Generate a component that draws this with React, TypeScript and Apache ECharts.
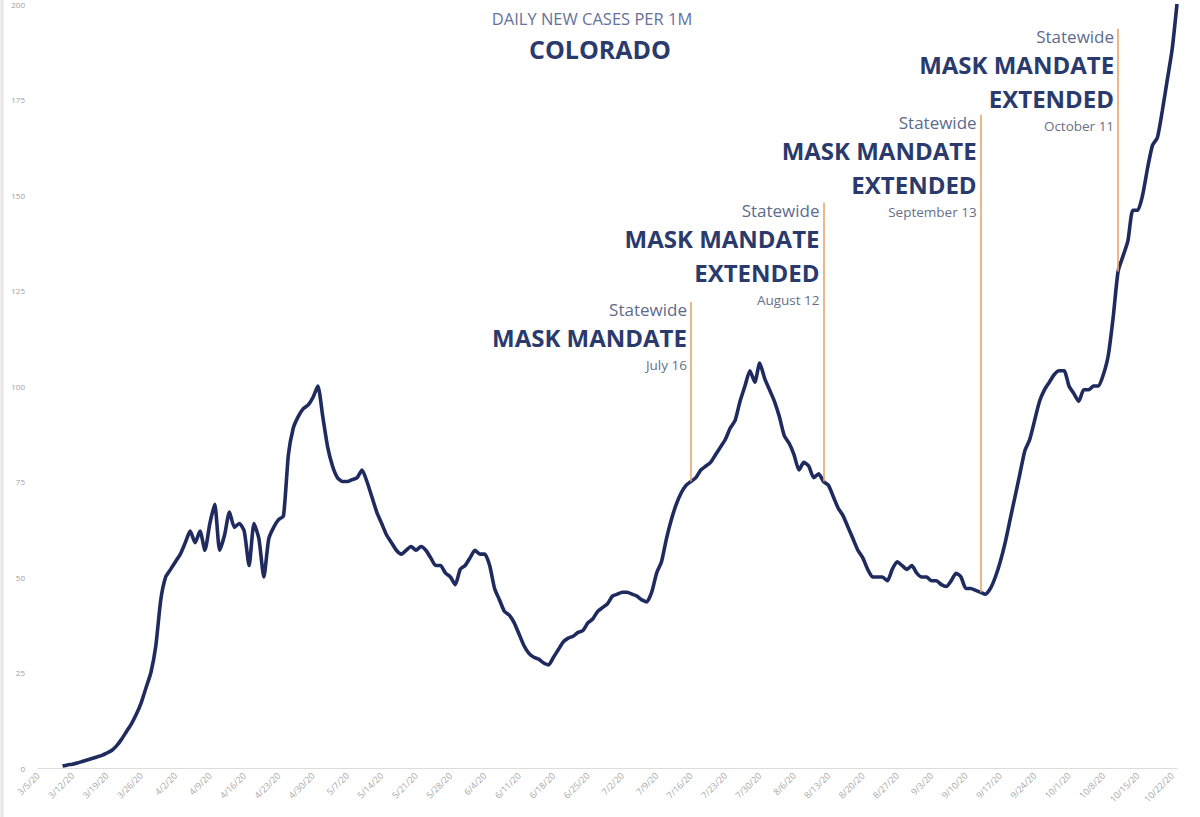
import React, { useEffect, useRef } from "react";
import * as echarts from "echarts";

// Axis starts on 3/5/20; x values are day offsets from this date.
const axisStart = "3/5/20";
const axisEndOffset = 232;

// Daily new cases per 1M (7-day average), one value per day starting on firstDay.
const firstDay = "3/10/20";
const values = [
  0.5, 0.8, 1.0, 1.3, 1.7,
  2.1, 2.5, 2.9, 3.3, 3.9,
  4.6, 5.8, 7.5, 9.5, 11.5,
  14, 17, 21, 25, 32,
  44, 50, 52, 54, 56,
  59, 62, 59, 62, 57,
  64, 69, 57, 61, 67,
  63, 64, 62, 53, 64,
  60, 50, 60, 63, 65,
  66, 82, 89, 92, 94,
  95, 97, 100, 92, 84,
  79, 76, 75, 75, 75.5,
  76, 78, 75, 71, 67,
  64, 61, 59, 57, 56,
  57, 58, 57, 58, 57,
  55, 53, 53, 51, 50,
  48, 52, 53, 55, 57,
  56, 56, 53, 47, 44,
  41, 40, 38, 35, 32,
  30, 29, 28.5, 27.5, 27,
  29, 31, 33, 34, 34.5,
  35.5, 36, 38, 39, 41,
  42, 43, 45, 45.5, 46,
  46, 45.5, 45, 44, 43.5,
  46, 51, 54, 60, 65,
  69, 72, 74, 75, 76,
  78, 79, 80, 82, 84,
  86, 89, 91, 96, 100,
  104, 101, 106, 102, 99,
  96, 92, 87, 85, 82,
  78, 80, 79, 76, 77,
  75, 74, 71, 68, 66,
  63, 60, 57, 55, 52,
  50, 50, 50, 49, 52,
  54, 53, 52, 53, 51,
  50, 50, 49, 49, 48,
  47.5, 49, 51, 50, 47,
  47, 46.5, 46, 45.5, 47,
  50, 54, 59, 65, 71,
  77, 83, 86, 91, 96,
  99, 101, 103, 104, 104,
  100, 98, 96, 99, 99,
  100, 100, 103, 108, 118,
  130, 134, 138, 146, 146,
  150, 157, 163, 165, 172,
  180, 188, 200,
];

// Mask mandate announcements
const mandateDates = ["7/16/20", "8/12/20", "9/13/20", "10/11/20"];
const mandateTops = [122, 148, 171, 193.5];
const mandateExtended = [false, true, true, true];
const mandateDateText = ["July 16", "August 12", "September 13", "October 11"];

const yMax = 200;
const yStep = 25;

const FONT = "'Open Sans', 'Noto Sans', sans-serif";
const NAVY = "#1f2b5e";
const TITLE_BLUE = "#2a3a6c";
const SOFT_BLUE = "#5d6b8c";
const ORANGE = "#e9a56c";

const dayMs = 86400000;
const parseDate = (s: string) => {
  const [m, d, y] = s.split("/").map(Number);
  return Date.UTC(2000 + y, m - 1, d);
};
const startMs = parseDate(axisStart);
const dayOffset = (s: string) => Math.round((parseDate(s) - startMs) / dayMs);
const formatDay = (off: number) => {
  const dt = new Date(startMs + off * dayMs);
  return `${dt.getUTCMonth() + 1}/${dt.getUTCDate()}/${String(dt.getUTCFullYear()).slice(2)}`;
};

export default function App() {
  const ref = useRef<HTMLDivElement>(null);

  useEffect(() => {
    if (!ref.current) return;
    const chart = echarts.init(ref.current, undefined, { renderer: "svg" });
    const first = dayOffset(firstDay);
    const data = values.map((v, k) => [first + k, v]);
    const valueAt = (off: number) => values[off - first];

    const lineData = mandateDates.map((d, j) => {
      const x = dayOffset(d);
      return [{ coord: [x, valueAt(x)] }, { coord: [x, mandateTops[j]] }];
    });

    const labelData = mandateDates.map((d, j) => {
      const x = dayOffset(d);
      const parts = ["{a|Statewide}", "{b|MASK MANDATE}"];
      if (mandateExtended[j]) parts.push("{b|EXTENDED}");
      parts.push(`{c|${mandateDateText[j]}}`);
      return {
        coord: [x, mandateTops[j]],
        label: { formatter: parts.join("\n") },
      };
    });

    chart.setOption({
      animation: false,
      backgroundColor: "#ffffff",
      grid: { left: 38, right: 23, top: 2, bottom: 49 },
      graphic: [
        {
          type: "line",
          shape: { x1: 2, y1: 0, x2: 2, y2: 817 },
          style: { stroke: "#e6e6e6", lineWidth: 3 },
        },
        {
          type: "text",
          x: 592,
          y: 18,
          style: {
            text: "DAILY NEW CASES PER 1M",
            fill: "#66729a",
            font: `16.5px ${FONT}`,
            textAlign: "center",
            textVerticalAlign: "middle",
          },
        },
        {
          type: "text",
          x: 600,
          y: 49,
          style: {
            text: "COLORADO",
            fill: TITLE_BLUE,
            font: `bold 25px ${FONT}`,
            textAlign: "center",
            textVerticalAlign: "middle",
          },
        },
      ],
      xAxis: {
        type: "value",
        min: 0,
        max: axisEndOffset,
        interval: 7,
        splitLine: { show: false },
        axisTick: { show: false },
        axisLine: { show: true, lineStyle: { color: "#dcdcdc", width: 1 } },
        axisLabel: {
          rotate: 45,
          fontSize: 9,
          color: "#a8a8a8",
          fontFamily: FONT,
          margin: 6,
          showMaxLabel: false,
          formatter: (v: number) => (v % 7 === 0 ? formatDay(v) : ""),
        },
      },
      yAxis: {
        type: "value",
        min: 0,
        max: yMax,
        interval: yStep,
        splitLine: { show: false },
        axisLine: { show: false },
        axisTick: { show: false },
        axisLabel: { fontSize: 8, color: "#a0a0a0", fontFamily: FONT, margin: 13 },
      },
      series: [
        {
          type: "line",
          data,
          showSymbol: false,
          smooth: 0.2,
          lineStyle: { color: NAVY, width: 3.6 },
          z: 3,
          markLine: {
            silent: true,
            symbol: ["none", "circle"],
            symbolSize: [0, 4],
            label: { show: false },
            lineStyle: { color: ORANGE, width: 1.6, type: "solid" },
            data: lineData,
          },
          markPoint: {
            silent: true,
            symbol: "circle",
            symbolSize: 0,
            itemStyle: { color: "transparent" },
            label: {
              show: true,
              position: "inside",
              align: "right",
              verticalAlign: "top",
              offset: [-4, -3],
              rich: {
                a: {
                  fontFamily: FONT,
                  fontSize: 17,
                  color: SOFT_BLUE,
                  lineHeight: 22,
                  align: "right",
                },
                b: {
                  fontFamily: FONT,
                  fontSize: 24,
                  fontWeight: "bold",
                  color: TITLE_BLUE,
                  lineHeight: 34,
                  align: "right",
                },
                c: {
                  fontFamily: FONT,
                  fontSize: 13.5,
                  color: "#66708a",
                  lineHeight: 20,
                  align: "right",
                },
              },
            },
            data: labelData,
          },
        },
      ],
    });
    return () => chart.dispose();
  }, []);

  return (
    <div
      ref={ref}
      style={{ position: "absolute", left: 0, top: 0, width: 1200, height: 817 }}
    />
  );
}
